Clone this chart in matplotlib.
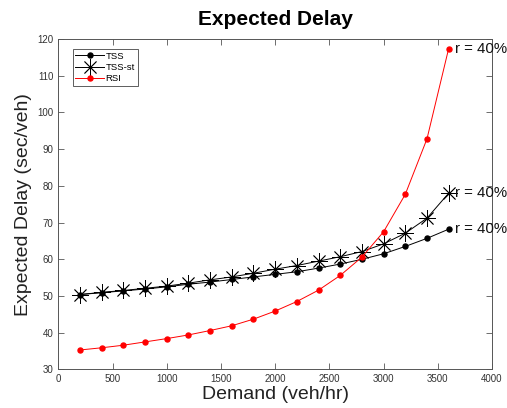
import numpy as np
import matplotlib
matplotlib.use('Agg')
import matplotlib.pyplot as plt

plt.rcParams['font.family'] = ['Liberation Sans', 'DejaVu Sans']

demand = [200, 400, 600, 800, 1000, 1200, 1400, 1600, 1800,
          2000, 2200, 2400, 2600, 2800, 3000, 3200, 3400, 3600]

tss = [50.4, 50.9, 51.4, 51.9, 52.5, 53.2, 53.8, 54.5, 55.2,
       55.9, 56.6, 57.6, 58.7, 60.0, 61.5, 63.5, 65.7, 68.2]
tss_st = [50.4, 51.0, 51.5, 52.1, 52.7, 53.5, 54.4, 55.2, 56.2,
          57.3, 58.3, 59.5, 60.7, 62.1, 64.2, 67.1, 71.2, 78.0]
rsi = [35.3, 35.9, 36.6, 37.5, 38.4, 39.4, 40.6, 41.9, 43.7,
       45.9, 48.5, 51.6, 55.6, 60.6, 67.5, 77.7, 92.8, 117.4]

fig = plt.figure(figsize=(5.07, 4.08), dpi=100)
ax = fig.add_axes([0.1150, 0.0945, 0.8555, 0.8100])

ax.plot(demand, tss, color='black', marker='o', markersize=3.6, linewidth=0.7, label='TSS')
# matlab style asterisk, 8 spokes
ax.plot(demand, tss_st, color='black', marker=(8, 2, 0), markersize=12, linewidth=0.7,
        markeredgewidth=0.6, label='TSS-st')
ax.plot(demand, rsi, color='red', marker='o', markersize=3.6, linewidth=0.7, label='RSI')

# labels at the last point of each series
for ys in (tss, tss_st, rsi):
    ax.text(demand[-1] + 55, ys[-1], 'r = 40%', fontsize=10.8, va='center', ha='left',
            clip_on=False, color='#111111')

ax.set_xlim(0, 4000)
ax.set_ylim(30, 120)
ax.set_xticks(range(0, 4001, 500))
ax.set_yticks(range(30, 121, 10))
ax.tick_params(direction='in', top=True, right=True, labelsize=7, colors='#555555',
               length=4, width=0.6, labelcolor='#333333')
for sp in ax.spines.values():
    sp.set_color('#555555')
    sp.set_linewidth(0.7)

ax.set_title('Expected Delay', fontsize=15, fontweight='bold', pad=10)
ax.set_xlabel('Demand (veh/hr)', fontsize=14, color='#222222', labelpad=1)
ax.set_ylabel('Expected Delay (sec/veh)', fontsize=14, color='#222222', labelpad=4)

leg = ax.legend(loc='upper left', fontsize=6.8, fancybox=False, framealpha=1,
                edgecolor='#444444', borderpad=0.3, labelspacing=0.25, borderaxespad=0,
                handlelength=3, handletextpad=0.2, bbox_to_anchor=(0.033, 0.97))
leg.get_frame().set_linewidth(0.6)

fig.savefig('out.png', dpi=100)
